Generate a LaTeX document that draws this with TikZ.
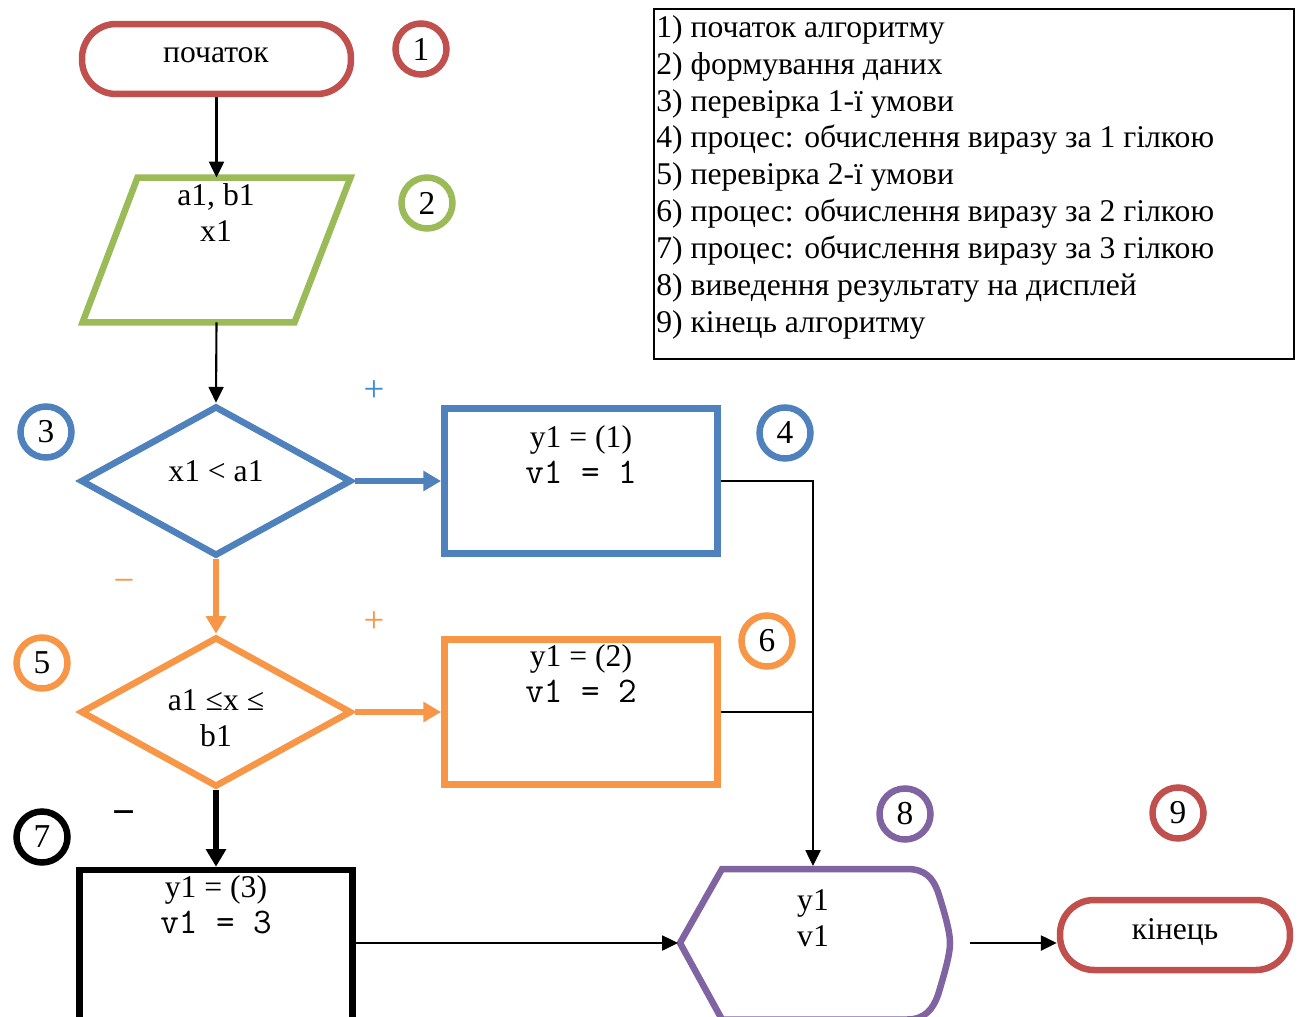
\documentclass[tikz,border=0pt]{standalone}
\usepackage{fontspec}
\setmainfont{Liberation Serif}
\usetikzlibrary{shapes.geometric,arrows.meta}
\definecolor{cred}{HTML}{C0504D}
\definecolor{cgreen}{HTML}{9BBB59}
\definecolor{cblue}{HTML}{4F81BD}
\definecolor{corange}{HTML}{F79646}
\definecolor{cpurple}{HTML}{8064A2}
\definecolor{cplus}{HTML}{3D8BD6}
\newcommand{\monotxt}[1]{{\ttfamily\fontsize{20.5}{20.5}\selectfont #1}}
\tikzset{
  txt/.style={font=\fontsize{18}{20.5}\selectfont, inner sep=0pt, align=center},
  thick5/.style={line width=3.7pt},
  term/.style={draw=cred, thick5, rectangle, rounded corners=0.68cm, minimum width=#1, minimum height=1.4cm, inner sep=0pt},
  numc/.style={draw=#1, thick5, circle, minimum size=1.02cm, inner sep=0pt, font=\fontsize{19}{20}\selectfont},
  boxs/.style={draw=#1, thick5, rectangle, minimum width=5.47cm, minimum height=2.91cm, inner sep=0pt},
  dia/.style={draw=#1, thick5, diamond, minimum width=5.42cm, minimum height=3.0cm, inner sep=0pt},
  thinarrow/.style={line width=1.2pt, -{Triangle[length=9pt,width=8.5pt]}},
  thinline/.style={line width=1.2pt},
  fatarrow/.style={line width=3.7pt, draw=#1, -{Triangle[length=10pt,width=11pt]}},
  sign/.style={font=\fontsize{21}{21}\selectfont, inner sep=0pt, text=#1},
}
\begin{document}
\begin{tikzpicture}[x=0.02cm,y=-0.02cm]
\useasboundingbox (0,0) rectangle (1301,1017);
\clip (0,0) rectangle (1301,1017);
\fill[white] (0,0) rectangle (1301,1017);

% legend
\node[draw, line width=1.2pt, rectangle, minimum width=12.8cm, minimum height=7.0cm, anchor=north west, inner sep=0pt] (legend) at (653,8) {};
\node[font=\fontsize{18}{21}\selectfont, align=left, anchor=north west, inner sep=0pt] (legtext) at (656,15) {1) початок алгоритму\\2) формування даних\\3) перевірка 1-ї умови\\4) процес: обчислення виразу за 1 гілкою\\5) перевірка 2-ї умови\\6) процес: обчислення виразу за 2 гілкою\\7) процес: обчислення виразу за 3 гілкою\\8) виведення результату на дисплей\\9) кінець алгоритму};

% shapes
\node[term=5.38cm] (start) at (216.5,59) {};
\node[txt] (starttxt) at (216,55) {початок};
\node[rectangle, minimum width=5.36cm, minimum height=2.9cm, inner sep=0pt, outer sep=0pt] (data) at (216.5,250) {};
\draw[draw=cgreen, thick5, line join=miter] ([xshift=1.1cm]data.north west) -- (data.north east) -- ([xshift=-1.12cm]data.south east) -- (data.south west) -- cycle;
\node[txt] (datatxt) at (216,213) {a1, b1\\x1};

\node[dia=cblue] (d1) at (216,481) {};
\node[txt] (d1txt) at (216,471) {x1 < a1};
\node[boxs=cblue] (b1) at (581,481) {};
\node[txt] (b1txt) at (581,455) {y1 = (1)\\\monotxt{v1 = 1}};

\node[dia=corange] (d2) at (216,712) {};
\node[txt] (d2txt) at (216,718) {a1 ≤x ≤\\b1};
\node[boxs=corange] (b2) at (581,712) {};
\node[txt] (b2txt) at (581,674) {y1 = (2)\\\monotxt{v1 = 2}};

\node[draw=black, thick5, rectangle, minimum width=5.47cm, minimum height=3.1cm, inner sep=0pt] (b3) at (216,947.5) {};
\node[txt] (b3txt) at (216,905) {y1 = (3)\\\monotxt{v1 = 3}};

% display
\draw[draw=cpurple, thick5, line join=miter] (907,869) -- (722,869) -- (680,943) -- (722,1019.5) -- (907,1019.5)
  .. controls (925,1019.5) and (933,1009) .. (938,995) .. controls (944,975) and (950,955) .. (950,943)
  .. controls (950,931) and (944,911) .. (938,892)
  .. controls (933,878) and (925,869) .. cycle;
\coordinate (dispL) at (678,943);
\coordinate (dispT) at (813,866);
\coordinate (dispR) at (970,943);
\node[txt] (disptxt) at (813,918) {y1\\v1};

\node[term=4.6cm] (end) at (1175,935) {};
\node[txt] (endtxt) at (1175,932) {кінець};

% numbers
\node[numc=cred] (n1) at (421,49) {1};
\node[numc=cgreen] (n2) at (427,203) {2};
\node[numc=cblue] (n3) at (46,432) {3};
\node[numc=cblue] (n4) at (785,433) {4};
\node[numc=corange] (n5) at (42,663) {5};
\node[numc=corange] (n6) at (767,641) {6};
\node[numc=black] (n7) at (42,837) {7};
\node[numc=cpurple] (n8) at (905,814) {8};
\node[numc=cred] (n9) at (1178,813) {9};

% signs
\node[sign=cplus] (p1) at (374,391) {+};
\node[sign=corange] (m1) at (124,586) {−};
\node[sign=corange] (p2) at (374,622) {+};
\node[sign=black, font=\fontsize{23}{23}\selectfont\bfseries] (m2) at (124,818) {−};

% connectors
\draw[thinarrow] (start.south) -- (data.north);
\draw[thinarrow] (data.south) -- (d1.north);
\draw[fatarrow=cblue] (d1.east) -- (b1.west);
\draw[fatarrow=corange] (d1.south) -- (d2.north);
\draw[fatarrow=corange] (d2.east) -- (b2.west);
\draw[fatarrow=black] (d2.south) -- (b3.north);
\draw[thinarrow] (b1.east) -- (b1.east -| dispT) -- (dispT);
\draw[thinline] (b2.east) -- (b2.east -| dispT);
\draw[thinarrow] (b3.east |- dispL) -- (dispL);
\draw[thinarrow] (dispR) -- (dispR -| end.west);
\end{tikzpicture}
\end{document}
